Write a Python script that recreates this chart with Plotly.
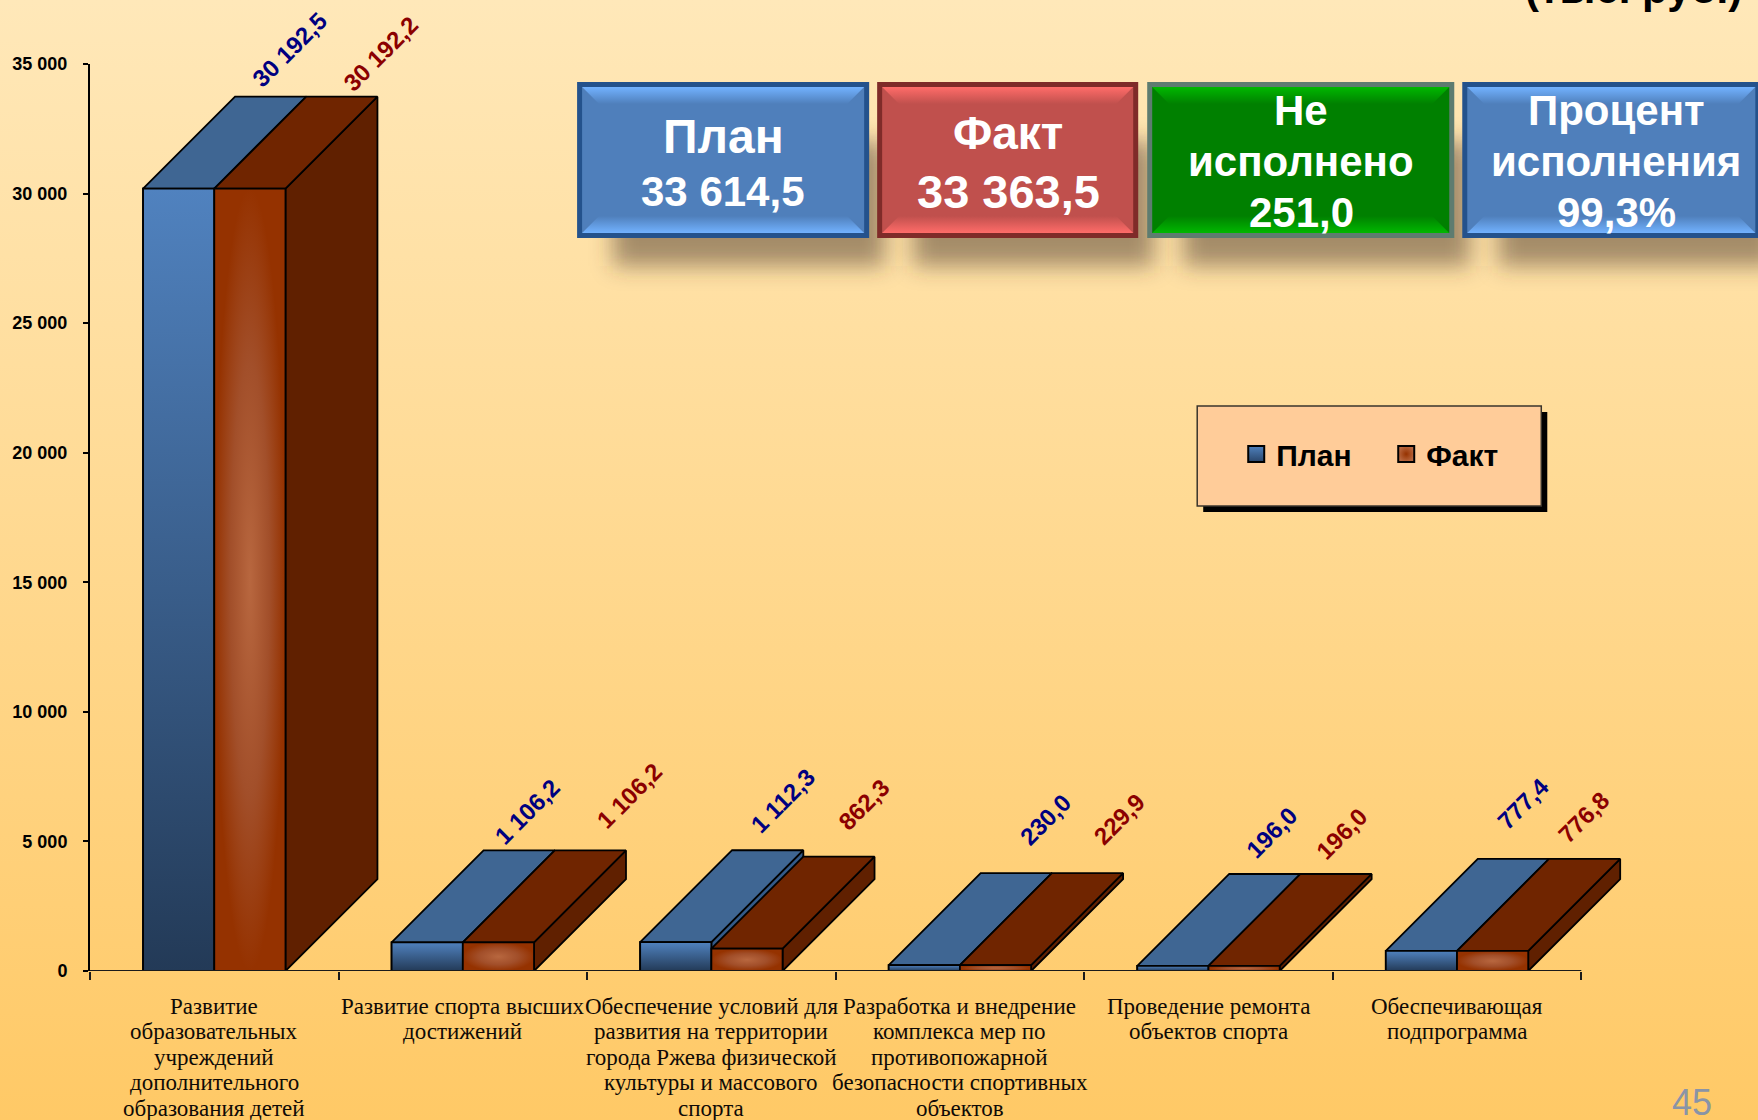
import base64
import plotly.graph_objects as go

# ---------- data ----------
CATEGORIES = [
    "Развитие<br>образовательных<br>учреждений<br>дополнительного<br>образования детей",
    "Развитие спорта высших<br>достижений",
    "Обеспечение условий для<br>развития на территории<br>города Ржева физической<br>культуры и массового<br>спорта",
    "Разработка и внедрение<br>комплекса мер по<br>противопожарной<br>безопасности спортивных<br>объектов",
    "Проведение ремонта<br>объектов спорта",
    "Обеспечивающая<br>подпрограмма",
]
PLAN = [30192.5, 1106.2, 1112.3, 230.0, 196.0, 777.4]
FACT = [30192.2, 1106.2, 862.3, 229.9, 196.0, 776.8]
Y_TICKS = [0, 5000, 10000, 15000, 20000, 25000, 30000, 35000]
Y_TICK_TEXT = ["0", "5 000", "10 000", "15 000", "20 000", "25 000", "30 000", "35 000"]
SERIES_NAMES = ["План", "Факт"]

# ---------- layout constants ----------
W, H = 1758, 1120
XMAX = 6.2              # room right of the last tick for the 3D depth of the last column
CAT_PX = 248.5
L, T, B = 90, 64, 149
R = W - L - CAT_PX * XMAX
PW, PH = W - L - R, H - T - B
BAR_W = 0.2865          # category units
DEPTH_X = 0.37          # category units
DEPTH_Y = 3548          # value units
DEPTH_PX = 92
PLAN_SHIFT = [(19, 47), (8, 39), (15, 50), (29, 54), (7, 41), (10, 55)]
FACT_SHIFT = [(39, 43), (39, 55), (25, 52), (31, 54), (6, 40), (-1, 41)]


def fmt(v):
    return f"{v:,.1f}".replace(",", " ").replace(".", ",")


# ---------- decorated background (gradient, box bevels, shadows) ----------
BOXES = [
    (577, 82, 292, 156, "#24528C", "#4F7FBB", "#72B2FF"),
    (877, 82, 261, 156, "#7F2B29", "#C0504D", "#FF6C69"),
    (1147, 82, 307, 156, "#5E7C70", "#008000", "#00B800"),
    (1462, 82, 298, 156, "#24528C", "#4F7FBB", "#72B2FF"),
]


def build_svg():
    defs = ['<linearGradient id="bg" x1="0" y1="0" x2="0" y2="1">'
            '<stop offset="0" stop-color="#FFE8B9"/><stop offset="1" stop-color="#FFC966"/></linearGradient>'
            '<filter id="blur" x="-20%" y="-40%" width="140%" height="180%"><feGaussianBlur stdDeviation="11"/></filter>']
    shadows, boxes = [], []
    for i, (x, y, w, h, border, base, light) in enumerate(BOXES):
        defs.append(
            f'<linearGradient id="t{i}" x1="0" y1="0" x2="0" y2="1"><stop offset="0" stop-color="{light}"/>'
            f'<stop offset="1" stop-color="{base}"/></linearGradient>'
            f'<linearGradient id="b{i}" x1="0" y1="0" x2="0" y2="1"><stop offset="0" stop-color="{base}"/>'
            f'<stop offset="1" stop-color="{light}"/></linearGradient>')
        shadows.append(f'<rect x="{x + 36}" y="{y + 60}" width="{w - 20}" height="{h - 32}" '
                       f'fill="#4A3A28" fill-opacity="0.5" filter="url(#blur)"/>')
        b, s = 5, 17
        x0, y0, x1, y1 = x + b, y + b, x + w - b, y + h - b
        boxes.append(
            f'<rect x="{x}" y="{y}" width="{w}" height="{h}" fill="{border}"/>'
            f'<rect x="{x0}" y="{y0}" width="{w - 2 * b}" height="{h - 2 * b}" fill="{base}"/>'
            f'<polygon points="{x0},{y0} {x1},{y0} {x1 - s},{y0 + s} {x0 + s},{y0 + s}" fill="url(#t{i})"/>'
            f'<polygon points="{x0},{y1} {x1},{y1} {x1 - s},{y1 - s} {x0 + s},{y1 - s}" fill="url(#b{i})"/>')
    legend_box = ('<rect x="1203" y="412" width="344" height="100" fill="#000"/>'
                  '<rect x="1197" y="406" width="344" height="100" fill="#FFCC99" '
                  'stroke="#3A352C" stroke-width="1.5"/>')
    svg = (f'<svg xmlns="http://www.w3.org/2000/svg" width="{W}" height="{H}" viewBox="0 0 {W} {H}">'
           f'<defs>{"".join(defs)}</defs><rect width="{W}" height="{H}" fill="url(#bg)"/>'
           f'{"".join(shadows)}{"".join(boxes)}{legend_box}</svg>')
    return "data:image/svg+xml;base64," + base64.b64encode(svg.encode()).decode()


# ---------- figure ----------
fig = go.Figure()
centers = [i + 0.5 for i in range(len(CATEGORIES))]

fig.add_bar(x=centers, y=PLAN, name=SERIES_NAMES[0], marker=dict(color="#4F81BD", line=dict(color="black", width=1.8)),
            showlegend=False)
fig.add_bar(x=centers, y=FACT, name=SERIES_NAMES[1], marker=dict(color="#993300", line=dict(color="black", width=1.8)),
            showlegend=False)


def poly(xs, ys, color=None, gradient=None):
    kw = dict(fillgradient=gradient) if gradient else dict(fillcolor=color)
    fig.add_scatter(x=xs + xs[:1], y=ys + ys[:1], mode="lines", fill="toself",
                    line=dict(color="black", width=1.8),
                    hoverinfo="skip", showlegend=False, **kw)


PLAN_GRAD = dict(type="vertical", colorscale=[[0, "#233A57"], [1, "#5082BF"]])
FACT_GRAD = dict(type="radial", colorscale=[[0, "#B8673F"], [0.55, "#A24F2A"], [1, "#953200"]])

for c, p, f in zip(centers, PLAN, FACT):
    # plan column
    l, r = c - BAR_W, c
    poly([r, r + DEPTH_X, r + DEPTH_X, r], [0, DEPTH_Y, p + DEPTH_Y, p], color="#345A88")
    poly([l, r, r + DEPTH_X, l + DEPTH_X], [p, p, p + DEPTH_Y, p + DEPTH_Y], color="#3F6693")
    poly([l, r, r, l], [0, 0, p, p], gradient=PLAN_GRAD)
    # fact column
    l, r = c, c + BAR_W
    poly([r, r + DEPTH_X, r + DEPTH_X, r], [0, DEPTH_Y, f + DEPTH_Y, f], color="#602000")
    poly([l, r, r + DEPTH_X, l + DEPTH_X], [f, f, f + DEPTH_Y, f + DEPTH_Y], color="#702500")
    poly([l, r, r, l], [0, 0, f, f], gradient=FACT_GRAD)

# legend-only entries with larger swatches
fig.add_scatter(x=[None], y=[None], mode="markers", name=SERIES_NAMES[0],
                marker=dict(symbol="square", size=16, color="#4F81BD", line=dict(color="black", width=2),
                            gradient=dict(type="vertical", color="#2A466B")))
fig.add_scatter(x=[None], y=[None], mode="markers", name=SERIES_NAMES[1],
                marker=dict(symbol="square", size=16, color="#B8673F", line=dict(color="black", width=2),
                            gradient=dict(type="radial", color="#963200")))

annotations = []
for values, shifts, color, sign in [(PLAN, PLAN_SHIFT, "#000080", -1), (FACT, FACT_SHIFT, "#8B0000", 1)]:
    for c, v, (dx, dy) in zip(centers, values, shifts):
        annotations.append(dict(
            x=c + sign * BAR_W / 2, y=v, xref="x", yref="y", text=f"<b>{fmt(v)}</b>", showarrow=False,
            xanchor="center", yanchor="middle", textangle=-45,
            xshift=DEPTH_PX + dx, yshift=DEPTH_PX + dy,
            font=dict(family="Liberation Sans", size=24, color=color)))

# category labels: one text per line so the line pitch follows the reference
for c, label in zip(centers, CATEGORIES):
    for k, line in enumerate(label.split("<br>")):
        annotations.append(dict(
            x=c, y=0, xref="x", yref="paper", text=line, showarrow=False,
            xanchor="center", yanchor="middle", yshift=-(35 + k * 25.6),
            font=dict(family="Liberation Serif", size=23, color="#0F0A06")))

BOX_TEXT = [
    (723, [("План", 136, 48), ("33 614,5", 191, 42)]),
    (1008, [("Факт", 133, 46), ("33 363,5", 191, 47)]),
    (1301, [("Не", 111, 42), ("исполнено", 162, 42), ("251,0", 213, 42)]),
    (1616, [("Процент", 111, 42), ("исполнения", 162, 42), ("99,3%", 213, 42)]),
]
for cx, lines in BOX_TEXT:
    for text, cy, size in lines:
        annotations.append(dict(
            x=(cx - L) / PW, y=1 - (cy - T) / PH, xref="paper", yref="paper", text=f"<b>{text}</b>",
            showarrow=False, xanchor="center", yanchor="middle",
            font=dict(family="Liberation Sans", size=size, color="white")))

annotations.append(dict(x=(1744 - L) / PW, y=1, xref="paper", yref="paper", text="<b>(тыс. руб.)</b>",
                        showarrow=False, xanchor="right", yanchor="bottom", yshift=50,
                        font=dict(family="Liberation Sans", size=42, color="black")))
annotations.append(dict(x=(1692 - L) / PW, y=1 - (1102 - T) / PH, xref="paper", yref="paper", text="45",
                        showarrow=False, xanchor="center", yanchor="middle",
                        font=dict(family="Liberation Sans", size=36, color="#8A94A6")))

fig.update_layout(
    width=W, height=H, autosize=False,
    margin=dict(l=L, r=R, t=T, b=B, pad=0),
    paper_bgcolor="#FFDB97", plot_bgcolor="rgba(0,0,0,0)",
    barmode="group", bargap=1 - 2 * BAR_W, bargroupgap=0,
    annotations=annotations,
    images=[dict(source=build_svg(), xref="paper", yref="paper",
                 x=-L / PW, y=1 + T / PH, sizex=W / PW, sizey=H / PH,
                 xanchor="left", yanchor="top", sizing="stretch", layer="below")],
    shapes=[dict(type="line", xref="x", yref="y", x0=0, x1=6, y0=0, y1=0, line=dict(color="#1A1A1A", width=2))],
    xaxis=dict(range=[0, XMAX], tick0=0, dtick=1, ticks="outside", ticklen=8, tickwidth=1.5, tickcolor="#1A1A1A",
               showticklabels=False, showgrid=False, zeroline=False, showline=False, automargin=False),
    yaxis=dict(range=[0, 35000], tickmode="array", tickvals=Y_TICKS, ticktext=[f"<b>{t}</b>" for t in Y_TICK_TEXT],
               ticks="outside", ticklen=5, tickwidth=1.5, tickcolor="black", showgrid=False, zeroline=False,
               showline=True, linecolor="black", linewidth=2, automargin=False, ticklabelstandoff=12,
               tickfont=dict(family="Liberation Sans", size=18, color="black")),
    legend=dict(orientation="h", x=(1236 - L) / PW, y=1 - (428 - T) / PH, xanchor="left", yanchor="top",
                bgcolor="rgba(0,0,0,0)", borderwidth=0, entrywidth=105, entrywidthmode="pixels",
                font=dict(family="Liberation Sans", size=30, color="black", weight="bold"),
                itemclick=False, itemdoubleclick=False),
)

fig.write_html("out.html", config={"displayModeBar": False},
               post_script="document.body.style.margin='0';document.documentElement.style.overflow='hidden';")
